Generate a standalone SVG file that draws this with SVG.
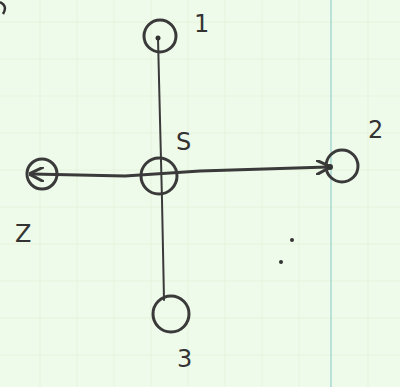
<svg xmlns="http://www.w3.org/2000/svg" width="400" height="387" viewBox="0 0 400 387">
<defs>
<style>
.node{fill:none;stroke:#3a3a3a;stroke-width:3}
.lbl{font-family:"DejaVu Sans",sans-serif;font-size:24px;fill:#333}
.edge{stroke:#3a3a3a;fill:none;stroke-linecap:round}
.grid{stroke:#e3f3dc;stroke-width:1}
</style>
<marker id="arr" viewBox="0 0 10 10" refX="8" refY="5" markerWidth="5" markerHeight="5" orient="auto-start-reverse">
<path d="M0,0 L10,5 L0,10" fill="none" stroke="#3a3a3a" stroke-width="2"/>
</marker>
</defs>
<rect width="400" height="387" fill="#effbea"/>
<g id="grid">
<path class="grid" d="M40,0V387M77,0V387M114,0V387M151,0V387M188,0V387M225,0V387M262,0V387M299,0V387M368,0V387M0,22H400M0,59H400M0,96H400M0,133H400M0,170H400M0,207H400M0,244H400M0,281H400M0,318H400M0,355H400"/>
<line x1="331" y1="0" x2="331" y2="387" stroke="#a9d9d3" stroke-width="1.5"/>
</g>
<path d="M0,2 Q8,6 3,14" fill="none" stroke="#333" stroke-width="2.5"/>
<g id="connectors">
<path class="edge" stroke-width="2" d="M158,38 L160,120 L162,200 L164,300"/>
<path class="edge" stroke-width="3" d="M32,174 L125,176 L200,171 L328,167" marker-start="url(#arr)" marker-end="url(#arr)"/>
</g>
<g id="n1"><circle class="node" cx="160" cy="36" r="16"/><circle cx="158" cy="38" r="2.5" fill="#333"/><text class="lbl" x="194" y="32">1</text></g>
<g id="nS"><circle class="node" cx="159" cy="176" r="18"/><text class="lbl" x="176" y="150">S</text></g>
<g id="n2"><circle class="node" cx="342" cy="166" r="16"/><circle cx="330" cy="167" r="3" fill="#333"/><text class="lbl" x="368" y="138">2</text></g>
<g id="nZ"><circle class="node" cx="42" cy="174" r="15"/><text class="lbl" x="15" y="242">Z</text></g>
<g id="n3"><circle class="node" cx="171" cy="314" r="18"/><text class="lbl" x="177" y="367">3</text></g>
<circle cx="292" cy="240" r="2" fill="#333"/>
<circle cx="281" cy="262" r="2" fill="#333"/>
</svg>
